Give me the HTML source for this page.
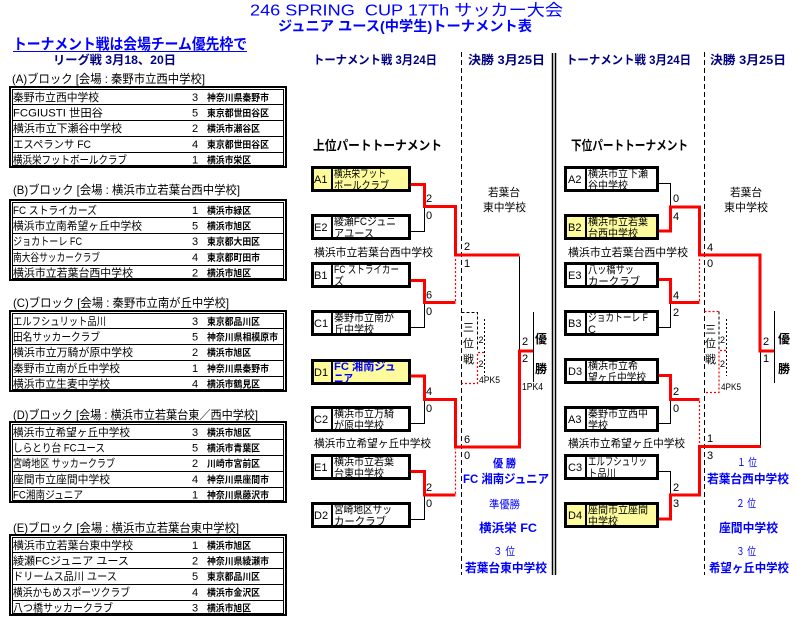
<!DOCTYPE html>
<html><head><meta charset="utf-8"><style>
html,body{margin:0;padding:0;background:#fff;}
svg{display:block;font-family:"Liberation Sans","Noto Sans CJK JP",sans-serif;}
.r{fill:none;stroke:#ff0000;stroke-width:3;}
.k{fill:none;stroke:#000;stroke-width:1;}
.rd{fill:none;stroke:#ff0000;stroke-width:1.2;stroke-dasharray:2 2;}
.kd{fill:none;stroke:#000;stroke-width:1;stroke-dasharray:3 2;}
.kdd{fill:none;stroke:#000;stroke-width:1;stroke-dasharray:2 2;}
.bx{stroke:#000;stroke-width:3;}
.nv{fill:#000080;font-weight:bold;font-size:12px;}
.bl{fill:#0000ff;}
.rg{font-size:9.5px;font-weight:bold;}
</style></head><body>
<svg width="796" height="623" viewBox="0 0 796 623" xmlns="http://www.w3.org/2000/svg">
<rect x="0" y="0" width="796" height="623" fill="#fff"/>
<!-- Titles -->
<text x="250" y="15.5" font-size="16" class="bl" textLength="313" lengthAdjust="spacingAndGlyphs">246 SPRING&#160; CUP 17Th サッカー大会</text>
<text x="278" y="31" font-size="14" font-weight="bold" class="bl" textLength="254" lengthAdjust="spacingAndGlyphs">ジュニア ユース(中学生)トーナメント表</text>
<text x="13" y="49" font-size="15" font-weight="bold" class="bl" textLength="234" lengthAdjust="spacingAndGlyphs">トーナメント戦は会場チーム優先枠で</text>
<line x1="13" y1="51.5" x2="247" y2="51.5" stroke="#0000ff" stroke-width="1"/>
<text x="53" y="64" class="nv" textLength="123" lengthAdjust="spacingAndGlyphs">リーグ戦 3月18、20日</text>

<!-- Block labels -->
<g font-size="12">
<text x="12" y="83" textLength="193" lengthAdjust="spacingAndGlyphs">(A)ブロック [会場 : 秦野市立西中学校]</text>
<text x="13" y="194" textLength="227" lengthAdjust="spacingAndGlyphs">(B)ブロック [会場 : 横浜市立若葉台西中学校]</text>
<text x="13" y="307" textLength="216" lengthAdjust="spacingAndGlyphs">(C)ブロック [会場 : 秦野市立南が丘中学校]</text>
<text x="13" y="419" textLength="245" lengthAdjust="spacingAndGlyphs">(D)ブロック [会場 : 横浜市立若葉台東／西中学校]</text>
<text x="13" y="532" textLength="226" lengthAdjust="spacingAndGlyphs">(E)ブロック [会場 : 横浜市立若葉台東中学校]</text>
</g>

<!-- Table A T=86 -->
<g transform="translate(0,86)">
<rect x="10" y="1" width="276" height="80" fill="none" stroke="#000" stroke-width="2"/>
<rect x="12.5" y="3.5" width="271" height="76" fill="none" stroke="#000" stroke-width="1"/>
<path d="M12.5 18.5H283.5M12.5 34.5H283.5M12.5 50.5H283.5M12.5 66.5H283.5" stroke="#000" stroke-width="1"/>
<g font-size="11">
<text x="13" y="15" textLength="86" lengthAdjust="spacingAndGlyphs">秦野市立西中学校</text>
<text x="13" y="30.5" textLength="90" lengthAdjust="spacingAndGlyphs">FCGIUSTI 世田谷</text>
<text x="13" y="46" textLength="109" lengthAdjust="spacingAndGlyphs">横浜市立下瀬谷中学校</text>
<text x="13" y="62" textLength="78" lengthAdjust="spacingAndGlyphs">エスペランサ FC</text>
<text x="13" y="77.5" textLength="114" lengthAdjust="spacingAndGlyphs">横浜栄フットボールクラブ</text>
<text x="192" y="15">3</text><text x="192" y="30.5">5</text><text x="192" y="46">2</text><text x="192" y="62">4</text><text x="192" y="77.5">1</text>
</g>
<g class="rg">
<text x="207" y="15" textLength="62" lengthAdjust="spacingAndGlyphs">神奈川県秦野市</text>
<text x="207" y="30.5" textLength="62" lengthAdjust="spacingAndGlyphs">東京都世田谷区</text>
<text x="207" y="46" textLength="53" lengthAdjust="spacingAndGlyphs">横浜市瀬谷区</text>
<text x="207" y="62" textLength="62" lengthAdjust="spacingAndGlyphs">東京都世田谷区</text>
<text x="207" y="77.5" textLength="44" lengthAdjust="spacingAndGlyphs">横浜市栄区</text>
</g>
</g>

<!-- Table B T=199 -->
<g transform="translate(0,199)">
<rect x="10" y="1" width="276" height="80" fill="none" stroke="#000" stroke-width="2"/>
<rect x="12.5" y="3.5" width="271" height="76" fill="none" stroke="#000" stroke-width="1"/>
<path d="M12.5 18.5H283.5M12.5 34.5H283.5M12.5 50.5H283.5M12.5 66.5H283.5" stroke="#000" stroke-width="1"/>
<g font-size="11">
<text x="13" y="15" textLength="84" lengthAdjust="spacingAndGlyphs">FC ストライカーズ</text>
<text x="13" y="30.5" textLength="129" lengthAdjust="spacingAndGlyphs">横浜市立南希望ヶ丘中学校</text>
<text x="13" y="46" textLength="69" lengthAdjust="spacingAndGlyphs">ジョカトーレ FC</text>
<text x="13" y="62" textLength="87" lengthAdjust="spacingAndGlyphs">南大谷サッカークラブ</text>
<text x="13" y="77.5" textLength="120" lengthAdjust="spacingAndGlyphs">横浜市立若葉台西中学校</text>
<text x="192" y="15">1</text><text x="192" y="30.5">5</text><text x="192" y="46">3</text><text x="192" y="62">4</text><text x="192" y="77.5">2</text>
</g>
<g class="rg">
<text x="207" y="15" textLength="44" lengthAdjust="spacingAndGlyphs">横浜市緑区</text>
<text x="207" y="30.5" textLength="44" lengthAdjust="spacingAndGlyphs">横浜市旭区</text>
<text x="207" y="46" textLength="53" lengthAdjust="spacingAndGlyphs">東京都大田区</text>
<text x="207" y="62" textLength="53" lengthAdjust="spacingAndGlyphs">東京都町田市</text>
<text x="207" y="77.5" textLength="44" lengthAdjust="spacingAndGlyphs">横浜市旭区</text>
</g>
</g>

<!-- Table C T=310 -->
<g transform="translate(0,310)">
<rect x="10" y="1" width="276" height="80" fill="none" stroke="#000" stroke-width="2"/>
<rect x="12.5" y="3.5" width="271" height="76" fill="none" stroke="#000" stroke-width="1"/>
<path d="M12.5 18.5H283.5M12.5 34.5H283.5M12.5 50.5H283.5M12.5 66.5H283.5" stroke="#000" stroke-width="1"/>
<g font-size="11">
<text x="13" y="15" textLength="93" lengthAdjust="spacingAndGlyphs">エルフシュリット品川</text>
<text x="13" y="30.5" textLength="87" lengthAdjust="spacingAndGlyphs">田名サッカークラブ</text>
<text x="13" y="46" textLength="120" lengthAdjust="spacingAndGlyphs">横浜市立万騎が原中学校</text>
<text x="13" y="62" textLength="107" lengthAdjust="spacingAndGlyphs">秦野市立南が丘中学校</text>
<text x="13" y="77.5" textLength="97" lengthAdjust="spacingAndGlyphs">横浜市立生麦中学校</text>
<text x="192" y="15">3</text><text x="192" y="30.5">5</text><text x="192" y="46">2</text><text x="192" y="62">1</text><text x="192" y="77.5">4</text>
</g>
<g class="rg">
<text x="207" y="15" textLength="53" lengthAdjust="spacingAndGlyphs">東京都品川区</text>
<text x="207" y="30.5" textLength="71" lengthAdjust="spacingAndGlyphs">神奈川県相模原市</text>
<text x="207" y="46" textLength="44" lengthAdjust="spacingAndGlyphs">横浜市旭区</text>
<text x="207" y="62" textLength="62" lengthAdjust="spacingAndGlyphs">神奈川県秦野市</text>
<text x="207" y="77.5" textLength="53" lengthAdjust="spacingAndGlyphs">横浜市鶴見区</text>
</g>
</g>

<!-- Table D T=421 -->
<g transform="translate(0,421)">
<rect x="10" y="1" width="276" height="80" fill="none" stroke="#000" stroke-width="2"/>
<rect x="12.5" y="3.5" width="271" height="76" fill="none" stroke="#000" stroke-width="1"/>
<path d="M12.5 18.5H283.5M12.5 34.5H283.5M12.5 50.5H283.5M12.5 66.5H283.5" stroke="#000" stroke-width="1"/>
<g font-size="11">
<text x="13" y="15" textLength="117" lengthAdjust="spacingAndGlyphs">横浜市立希望ヶ丘中学校</text>
<text x="13" y="30.5" textLength="92" lengthAdjust="spacingAndGlyphs">しらとり台 FCユース</text>
<text x="13" y="46" textLength="102" lengthAdjust="spacingAndGlyphs">宮崎地区 サッカークラブ</text>
<text x="13" y="62" textLength="97" lengthAdjust="spacingAndGlyphs">座間市立座間中学校</text>
<text x="13" y="77.5" textLength="70" lengthAdjust="spacingAndGlyphs">FC湘南ジュニア</text>
<text x="192" y="15">3</text><text x="192" y="30.5">5</text><text x="192" y="46">2</text><text x="192" y="62">4</text><text x="192" y="77.5">1</text>
</g>
<g class="rg">
<text x="207" y="15" textLength="44" lengthAdjust="spacingAndGlyphs">横浜市旭区</text>
<text x="207" y="30.5" textLength="53" lengthAdjust="spacingAndGlyphs">横浜市青葉区</text>
<text x="207" y="46" textLength="53" lengthAdjust="spacingAndGlyphs">川崎市宮前区</text>
<text x="207" y="62" textLength="62" lengthAdjust="spacingAndGlyphs">神奈川県座間市</text>
<text x="207" y="77.5" textLength="62" lengthAdjust="spacingAndGlyphs">神奈川県藤沢市</text>
</g>
</g>

<!-- Table E T=534 -->
<g transform="translate(0,534)">
<rect x="10" y="1" width="276" height="80" fill="none" stroke="#000" stroke-width="2"/>
<rect x="12.5" y="3.5" width="271" height="76" fill="none" stroke="#000" stroke-width="1"/>
<path d="M12.5 18.5H283.5M12.5 34.5H283.5M12.5 50.5H283.5M12.5 66.5H283.5" stroke="#000" stroke-width="1"/>
<g font-size="11">
<text x="13" y="15" textLength="120" lengthAdjust="spacingAndGlyphs">横浜市立若葉台東中学校</text>
<text x="13" y="30.5" textLength="116" lengthAdjust="spacingAndGlyphs">綾瀬FCジュニア ユース</text>
<text x="13" y="46" textLength="104" lengthAdjust="spacingAndGlyphs">ドリームス品川 ユース</text>
<text x="13" y="62" textLength="117" lengthAdjust="spacingAndGlyphs">横浜かもめスポーツクラブ</text>
<text x="13" y="77.5" textLength="100" lengthAdjust="spacingAndGlyphs">八つ橋サッカークラブ</text>
<text x="192" y="15">1</text><text x="192" y="30.5">2</text><text x="192" y="46">5</text><text x="192" y="62">4</text><text x="192" y="77.5">3</text>
</g>
<g class="rg">
<text x="207" y="15" textLength="44" lengthAdjust="spacingAndGlyphs">横浜市旭区</text>
<text x="207" y="30.5" textLength="62" lengthAdjust="spacingAndGlyphs">神奈川県綾瀬市</text>
<text x="207" y="46" textLength="53" lengthAdjust="spacingAndGlyphs">東京都品川区</text>
<text x="207" y="62" textLength="53" lengthAdjust="spacingAndGlyphs">横浜市金沢区</text>
<text x="207" y="77.5" textLength="44" lengthAdjust="spacingAndGlyphs">横浜市旭区</text>
</g>
</g>

<!-- Headers -->
<text x="313" y="64" class="nv" textLength="124" lengthAdjust="spacingAndGlyphs">トーナメント戦 3月24日</text>
<text x="468" y="64" class="nv" textLength="77" lengthAdjust="spacingAndGlyphs">決勝 3月25日</text>
<text x="566" y="64" class="nv" textLength="125" lengthAdjust="spacingAndGlyphs">トーナメント戦 3月24日</text>
<text x="710" y="64" class="nv" textLength="76" lengthAdjust="spacingAndGlyphs">決勝 3月25日</text>
<text x="313" y="150" font-size="13" font-weight="bold" textLength="129" lengthAdjust="spacingAndGlyphs">上位パートトーナメント</text>
<text x="571" y="150" font-size="13" font-weight="bold" textLength="117" lengthAdjust="spacingAndGlyphs">下位パートトーナメント</text>

<!-- Vertical separators -->
<path d="M461.5 52V575" class="kd" style="stroke-dasharray:5 3"/>
<path d="M704.5 52V575" class="kd" style="stroke-dasharray:5 3"/>
<path d="M552.5 53V575M555.5 53V575" stroke="#000" stroke-width="1.5" fill="none"/>

<!-- Captions -->
<g font-size="11">
<text x="314" y="256" textLength="119" lengthAdjust="spacingAndGlyphs">横浜市立若葉台西中学校</text>
<text x="568" y="256" textLength="120" lengthAdjust="spacingAndGlyphs">横浜市立若葉台西中学校</text>
<text x="314" y="447" textLength="117" lengthAdjust="spacingAndGlyphs">横浜市立希望ヶ丘中学校</text>
<text x="568" y="447" textLength="117" lengthAdjust="spacingAndGlyphs">横浜市立希望ヶ丘中学校</text>
</g>

<!-- Left boxes -->
<g font-size="11">
<!-- A1 -->
<rect x="312.5" y="167.5" width="97" height="23" fill="#fdfb9c" class="bx"/>
<line x1="332" y1="166" x2="332" y2="192" stroke="#000" stroke-width="2"/>
<text x="314" y="183">A1</text>
<text x="334" y="177" textLength="52" lengthAdjust="spacingAndGlyphs">横浜栄フット</text>
<text x="334" y="189" textLength="55" lengthAdjust="spacingAndGlyphs">ボールクラブ</text>
<!-- E2 -->
<rect x="312.5" y="215.5" width="97" height="23" fill="#fff" class="bx"/>
<line x1="332" y1="214" x2="332" y2="240" stroke="#000" stroke-width="2"/>
<text x="314" y="231">E2</text>
<text x="334" y="225" textLength="62" lengthAdjust="spacingAndGlyphs">綾瀬FCジュニ</text>
<text x="334" y="237" textLength="40" lengthAdjust="spacingAndGlyphs">アユース</text>
<!-- B1 -->
<rect x="312.5" y="263.5" width="97" height="23" fill="#fff" class="bx"/>
<line x1="332" y1="262" x2="332" y2="288" stroke="#000" stroke-width="2"/>
<text x="314" y="279">B1</text>
<text x="334" y="273" textLength="65" lengthAdjust="spacingAndGlyphs">FC ストライカー</text>
<text x="334" y="285" textLength="10" lengthAdjust="spacingAndGlyphs">ズ</text>
<!-- C1 -->
<rect x="312.5" y="311.5" width="97" height="23" fill="#fff" class="bx"/>
<line x1="332" y1="310" x2="332" y2="336" stroke="#000" stroke-width="2"/>
<text x="314" y="327">C1</text>
<text x="334" y="321" textLength="60" lengthAdjust="spacingAndGlyphs">秦野市立南が</text>
<text x="334" y="333" textLength="40" lengthAdjust="spacingAndGlyphs">丘中学校</text>
<!-- D1 -->
<rect x="312.5" y="360.5" width="97" height="23" fill="#fdfb9c" class="bx"/>
<line x1="332" y1="359" x2="332" y2="385" stroke="#000" stroke-width="2"/>
<text x="314" y="376">D1</text>
<text x="334" y="370" textLength="62" lengthAdjust="spacingAndGlyphs" class="bl" font-weight="bold">FC 湘南ジュ</text>
<text x="334" y="382" textLength="19" lengthAdjust="spacingAndGlyphs" class="bl" font-weight="bold">ニア</text>
<!-- C2 -->
<rect x="312.5" y="407.5" width="97" height="23" fill="#fff" class="bx"/>
<line x1="332" y1="406" x2="332" y2="432" stroke="#000" stroke-width="2"/>
<text x="314" y="423">C2</text>
<text x="334" y="417" textLength="60" lengthAdjust="spacingAndGlyphs">横浜市立万騎</text>
<text x="334" y="429" textLength="50" lengthAdjust="spacingAndGlyphs">が原中学校</text>
<!-- E1 -->
<rect x="312.5" y="455.5" width="97" height="23" fill="#fff" class="bx"/>
<line x1="332" y1="454" x2="332" y2="480" stroke="#000" stroke-width="2"/>
<text x="314" y="471">E1</text>
<text x="334" y="465" textLength="60" lengthAdjust="spacingAndGlyphs">横浜市立若葉</text>
<text x="334" y="477" textLength="50" lengthAdjust="spacingAndGlyphs">台東中学校</text>
<!-- D2 -->
<rect x="312.5" y="503.5" width="97" height="23" fill="#fff" class="bx"/>
<line x1="332" y1="502" x2="332" y2="528" stroke="#000" stroke-width="2"/>
<text x="314" y="519">D2</text>
<text x="334" y="513" textLength="58" lengthAdjust="spacingAndGlyphs">宮崎地区サッ</text>
<text x="334" y="525" textLength="52" lengthAdjust="spacingAndGlyphs">カークラブ</text>
</g>

<!-- Right boxes -->
<g font-size="11">
<!-- A2 -->
<rect x="565.5" y="167.5" width="92" height="23" fill="#fff" class="bx"/>
<line x1="586" y1="166" x2="586" y2="192" stroke="#000" stroke-width="2"/>
<text x="568" y="183">A2</text>
<text x="588" y="177" textLength="60" lengthAdjust="spacingAndGlyphs">横浜市立下瀬</text>
<text x="588" y="189" textLength="40" lengthAdjust="spacingAndGlyphs">谷中学校</text>
<!-- B2 -->
<rect x="565.5" y="215.5" width="92" height="23" fill="#fdfb9c" class="bx"/>
<line x1="586" y1="214" x2="586" y2="240" stroke="#000" stroke-width="2"/>
<text x="568" y="231">B2</text>
<text x="588" y="225" textLength="60" lengthAdjust="spacingAndGlyphs">横浜市立若葉</text>
<text x="588" y="237" textLength="50" lengthAdjust="spacingAndGlyphs">台西中学校</text>
<!-- E3 -->
<rect x="565.5" y="263.5" width="92" height="23" fill="#fff" class="bx"/>
<line x1="586" y1="262" x2="586" y2="288" stroke="#000" stroke-width="2"/>
<text x="568" y="279">E3</text>
<text x="588" y="273" textLength="46" lengthAdjust="spacingAndGlyphs">八ッ橋サッ</text>
<text x="588" y="285" textLength="52" lengthAdjust="spacingAndGlyphs">カークラブ</text>
<!-- B3 -->
<rect x="565.5" y="311.5" width="92" height="23" fill="#fff" class="bx"/>
<line x1="586" y1="310" x2="586" y2="336" stroke="#000" stroke-width="2"/>
<text x="568" y="327">B3</text>
<text x="588" y="321" textLength="60" lengthAdjust="spacingAndGlyphs">ジョカトーレ F</text>
<text x="588" y="333">C</text>
<!-- D3 -->
<rect x="565.5" y="359.5" width="92" height="23" fill="#fff" class="bx"/>
<line x1="586" y1="358" x2="586" y2="384" stroke="#000" stroke-width="2"/>
<text x="568" y="375">D3</text>
<text x="588" y="369" textLength="50" lengthAdjust="spacingAndGlyphs">横浜市立希</text>
<text x="588" y="381" textLength="58" lengthAdjust="spacingAndGlyphs">望ヶ丘中学校</text>
<!-- A3 -->
<rect x="565.5" y="407.5" width="92" height="23" fill="#fff" class="bx"/>
<line x1="586" y1="406" x2="586" y2="432" stroke="#000" stroke-width="2"/>
<text x="568" y="423">A3</text>
<text x="588" y="417" textLength="60" lengthAdjust="spacingAndGlyphs">秦野市立西中</text>
<text x="588" y="429" textLength="20" lengthAdjust="spacingAndGlyphs">学校</text>
<!-- C3 -->
<rect x="565.5" y="455.5" width="92" height="23" fill="#fff" class="bx"/>
<line x1="586" y1="454" x2="586" y2="480" stroke="#000" stroke-width="2"/>
<text x="568" y="471">C3</text>
<text x="588" y="465" textLength="59" lengthAdjust="spacingAndGlyphs">エルフシュリッ</text>
<text x="588" y="477" textLength="28" lengthAdjust="spacingAndGlyphs">ト品川</text>
<!-- D4 -->
<rect x="565.5" y="503.5" width="92" height="23" fill="#fdfb9c" class="bx"/>
<line x1="586" y1="502" x2="586" y2="528" stroke="#000" stroke-width="2"/>
<text x="568" y="519">D4</text>
<text x="588" y="513" textLength="60" lengthAdjust="spacingAndGlyphs">座間市立座間</text>
<text x="588" y="525" textLength="30" lengthAdjust="spacingAndGlyphs">中学校</text>
</g>

<!-- Left connectors -->
<path d="M411 231.5H424.5V208" class="k"/>
<path d="M411 327.5H424.5V304" class="k"/>
<path d="M411 423.5H424.5V401" class="k"/>
<path d="M411 519.5H424.5V496.5" class="k"/>
<path d="M519.5 256.5V349.5" class="k"/>
<path d="M533.5 312V382" class="k"/>
<path d="M455.5 301V257" class="rd"/>
<path d="M455.5 493.5V449" class="rd"/>
<path d="M411 184.5H424.5V206.5H455.5V255H519.5" class="r"/>
<path d="M411 280.5H424.5V302.5H455.5" class="r"/>
<path d="M411 376H424.5V399.5H455.5V447H519.5V351H533" class="r"/>
<path d="M411 471.5H424.5V495H455.5" class="r"/>

<!-- Right connectors -->
<path d="M659 183.5H670.5V205.5" class="k"/>
<path d="M659 327.5H670.5V304" class="k"/>
<path d="M659 423.5H670.5V401" class="k"/>
<path d="M659 471.5H670.5V493.5" class="k"/>
<path d="M760.5 445V352.5" class="k"/>
<path d="M774.5 311V383" class="k"/>
<path d="M699.5 301V257" class="rd"/>
<path d="M699.5 401V445" class="rd"/>
<path d="M659 231H670.5V207H699.5V255H760V351H774" class="r"/>
<path d="M659 279.5H670.5V302.5H699.5" class="r"/>
<path d="M659 375.5H670.5V399.5H699.5" class="r"/>
<path d="M659 519H670.5V495H699.5V446.5H761" class="r"/>

<!-- Third place left -->
<path d="M461.5 312.5H477.5V351" class="kd"/>
<path d="M484 352.5H477.5V383.5H461.5" class="rd"/>
<path d="M484.5 319V376" class="kdd"/>
<g font-size="11">
<text x="463" y="331">三</text>
<text x="463" y="347">位</text>
<text x="463" y="363">戦</text>
</g>
<g font-size="9">
<text x="478.5" y="343">2</text>
<text x="478.5" y="367">2</text>
<text x="479" y="383" textLength="21" lengthAdjust="spacingAndGlyphs">4PK5</text>
</g>

<!-- Third place right -->
<path d="M704.5 311.5H719" class="rd"/>
<path d="M719 311.5V350" class="kd"/>
<path d="M726 350.5H719V392.5H704.5" class="rd"/>
<path d="M726.5 319V376" class="kdd"/>
<g font-size="11">
<text x="705" y="333">三</text>
<text x="705" y="347">位</text>
<text x="705" y="363">戦</text>
</g>
<g font-size="9">
<text x="720" y="343">2</text>
<text x="720" y="367">2</text>
<text x="721" y="390" textLength="20" lengthAdjust="spacingAndGlyphs">4PK5</text>
</g>

<!-- Scores left -->
<g font-size="11">
<text x="426" y="202">2</text><text x="426" y="219">0</text>
<text x="426" y="298.5">6</text><text x="426" y="315">0</text>
<text x="426" y="395">4</text><text x="426" y="412">0</text>
<text x="426" y="491">2</text><text x="426" y="507">0</text>
<text x="464" y="250">2</text><text x="464" y="267">1</text>
<text x="464" y="443">6</text><text x="464" y="459">0</text>
<text x="522" y="345">2</text><text x="522" y="362">2</text>
<text x="522" y="390" font-size="10" textLength="21" lengthAdjust="spacingAndGlyphs">1PK4</text>
<!-- Scores right -->
<text x="673" y="202">0</text><text x="673" y="220">4</text>
<text x="673" y="299">4</text><text x="673" y="316">2</text>
<text x="673" y="395">2</text><text x="673" y="412">0</text>
<text x="673" y="491">2</text><text x="673" y="507">3</text>
<text x="707" y="251">4</text><text x="707" y="267">0</text>
<text x="707" y="442">1</text><text x="707" y="459">3</text>
<text x="763" y="345">2</text><text x="763" y="362">1</text>
</g>

<!-- Winner vertical labels -->
<g font-size="12" font-weight="bold">
<text x="535" y="343">優</text>
<text x="535" y="373">勝</text>
<text x="778" y="343">優</text>
<text x="778" y="373">勝</text>
</g>

<!-- Venue -->
<g font-size="11">
<text x="488" y="196" textLength="32" lengthAdjust="spacingAndGlyphs">若葉台</text>
<text x="483" y="211" textLength="43" lengthAdjust="spacingAndGlyphs">東中学校</text>
<text x="730" y="196" textLength="32" lengthAdjust="spacingAndGlyphs">若葉台</text>
<text x="724" y="211" textLength="44" lengthAdjust="spacingAndGlyphs">東中学校</text>
</g>

<!-- Results left -->
<g class="bl">
<text x="493" y="467" font-size="11" font-weight="bold" textLength="23" lengthAdjust="spacingAndGlyphs">優 勝</text>
<text x="463" y="483" font-size="12" font-weight="bold" textLength="86" lengthAdjust="spacingAndGlyphs">FC 湘南ジュニア</text>
<text x="489" y="508" font-size="11" textLength="31" lengthAdjust="spacingAndGlyphs">準優勝</text>
<text x="479" y="532" font-size="12" font-weight="bold" textLength="58" lengthAdjust="spacingAndGlyphs">横浜栄 FC</text>
<text x="493" y="555" font-size="11" textLength="22" lengthAdjust="spacingAndGlyphs">３ 位</text>
<text x="465" y="572" font-size="12" font-weight="bold" textLength="82" lengthAdjust="spacingAndGlyphs">若葉台東中学校</text>
<!-- Results right -->
<text x="737" y="466" font-size="11" textLength="20" lengthAdjust="spacingAndGlyphs">１ 位</text>
<text x="707" y="483" font-size="12" font-weight="bold" textLength="82" lengthAdjust="spacingAndGlyphs">若葉台西中学校</text>
<text x="736" y="507" font-size="11" textLength="20" lengthAdjust="spacingAndGlyphs">２ 位</text>
<text x="719" y="532" font-size="12" font-weight="bold" textLength="59" lengthAdjust="spacingAndGlyphs">座間中学校</text>
<text x="736" y="555" font-size="11" textLength="20" lengthAdjust="spacingAndGlyphs">３ 位</text>
<text x="709" y="572" font-size="12" font-weight="bold" textLength="80" lengthAdjust="spacingAndGlyphs">希望ヶ丘中学校</text>
</g>
</svg>
</body></html>
